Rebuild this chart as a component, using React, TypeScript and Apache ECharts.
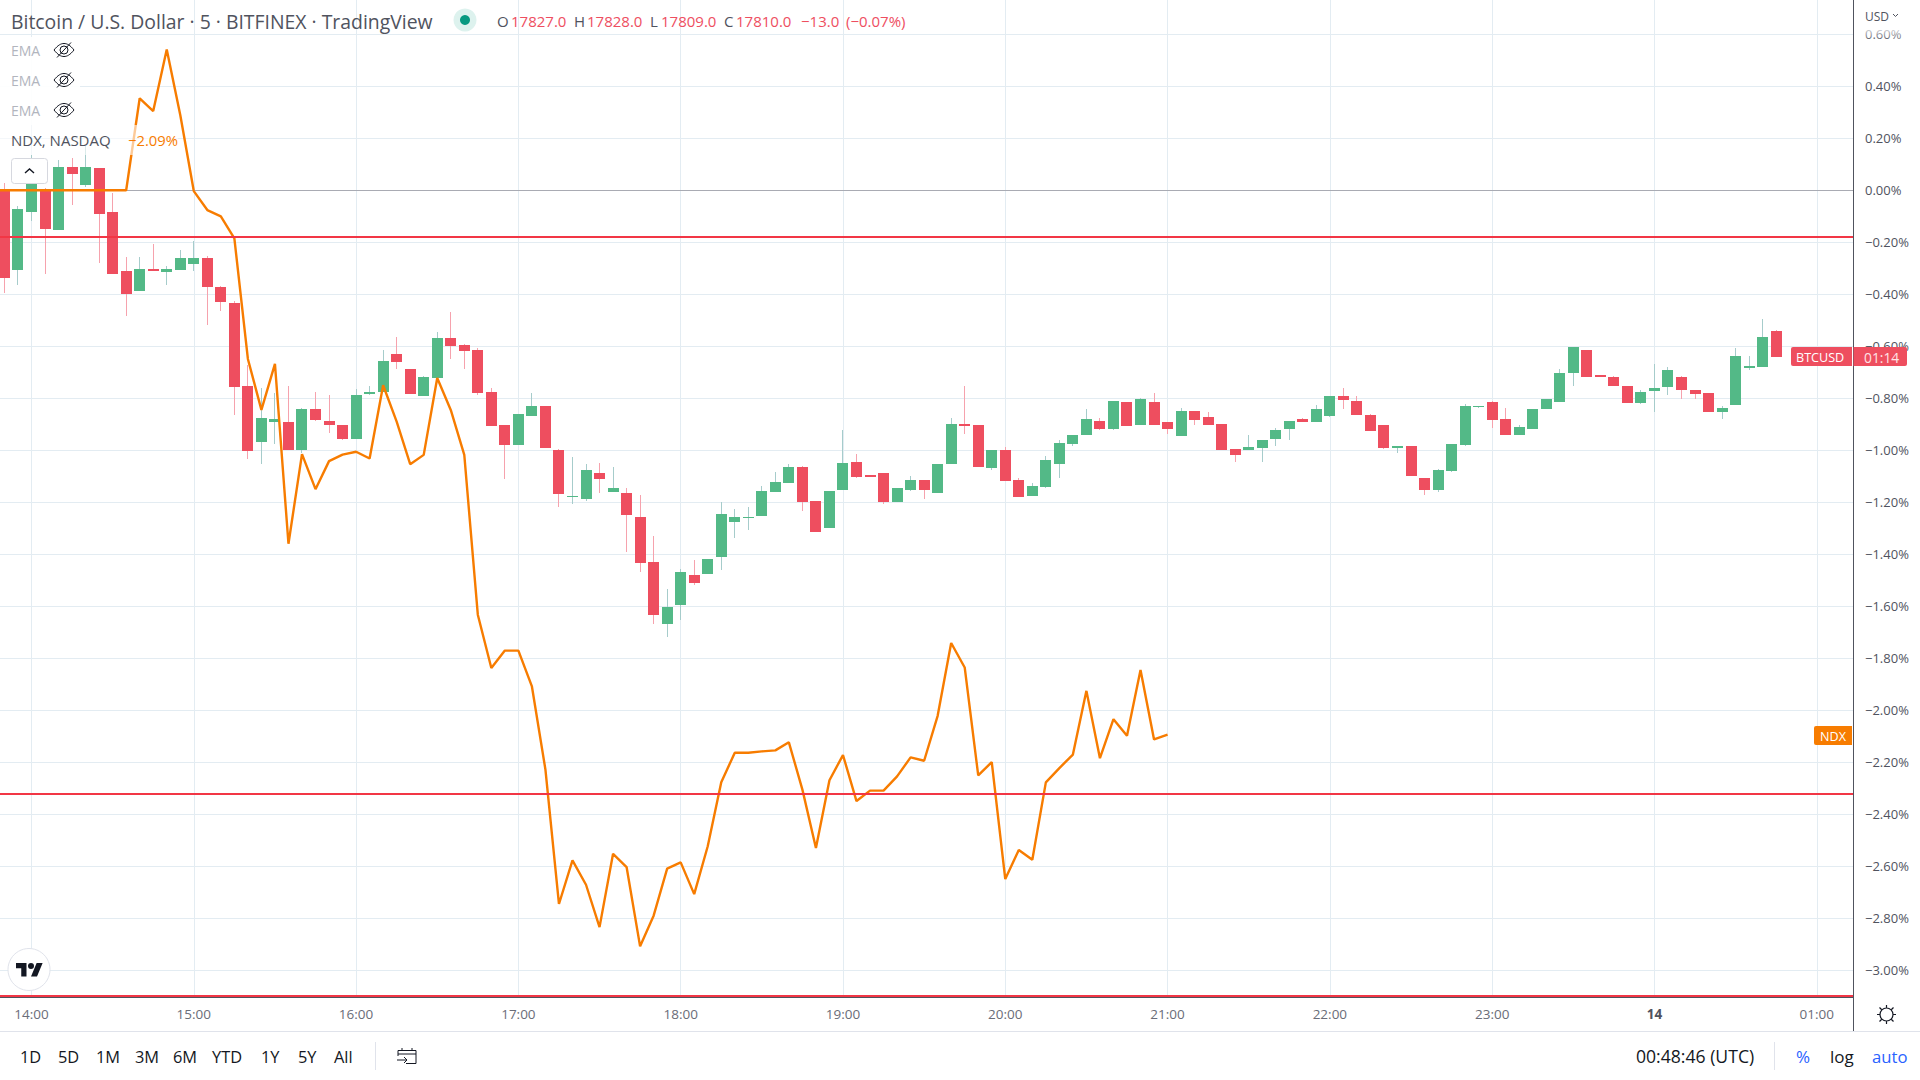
import React, { useEffect, useRef } from "react";
import * as echarts from "echarts";

// bar index 0 = 14:00, one bar = 5 minutes
const firstBar = -2;
const opens = [0.004,-0.306,-0.083,0.004,-0.153,0.09,0.021,0.086,-0.083,-0.31,-0.387,-0.303,-0.314,-0.306,-0.283,-0.26,-0.372,-0.433,-0.753,-0.968,-0.891,-0.891,-0.999,-0.841,-0.887,-0.903,-0.957,-0.783,-0.775,-0.629,-0.687,-0.791,-0.722,-0.568,-0.595,-0.614,-0.776,-0.903,-0.979,-0.868,-0.829,-0.999,-1.179,-1.187,-1.087,-1.16,-1.164,-1.256,-1.429,-1.668,-1.595,-1.479,-1.476,-1.41,-1.276,-1.26,-1.253,-1.16,-1.126,-1.064,-1.195,-1.299,-1.153,-1.045,-1.095,-1.087,-1.199,-1.153,-1.114,-1.164,-1.053,-0.899,-0.903,-1.068,-0.999,-1.114,-1.176,-1.141,-1.053,-0.976,-0.941,-0.887,-0.918,-0.814,-0.903,-0.814,-0.891,-0.945,-0.849,-0.872,-0.899,-0.995,-0.999,-0.991,-0.956,-0.918,-0.879,-0.891,-0.868,-0.791,-0.81,-0.864,-0.903,-0.991,-0.983,-1.106,-1.153,-1.079,-0.979,-0.833,-0.814,-0.879,-0.941,-0.918,-0.841,-0.814,-0.703,-0.614,-0.71,-0.718,-0.753,-0.818,-0.772,-0.756,-0.718,-0.768,-0.779,-0.853,-0.826,-0.683,-0.679,-0.541];
const closes = [-0.336,-0.072,0.04,-0.149,0.09,0.063,0.09,-0.091,-0.322,-0.399,-0.303,-0.31,-0.303,-0.26,-0.26,-0.372,-0.429,-0.756,-1.003,-0.876,-0.879,-0.999,-0.841,-0.883,-0.903,-0.957,-0.787,-0.776,-0.656,-0.66,-0.783,-0.718,-0.568,-0.599,-0.618,-0.779,-0.906,-0.979,-0.86,-0.829,-0.991,-1.168,-1.176,-1.076,-1.11,-1.145,-1.249,-1.433,-1.633,-1.603,-1.468,-1.51,-1.418,-1.245,-1.256,-1.256,-1.156,-1.122,-1.064,-1.199,-1.314,-1.156,-1.049,-1.103,-1.103,-1.199,-1.145,-1.114,-1.153,-1.053,-0.899,-0.906,-1.064,-0.999,-1.118,-1.179,-1.137,-1.037,-0.972,-0.941,-0.879,-0.918,-0.81,-0.906,-0.803,-0.903,-0.918,-0.849,-0.883,-0.903,-0.999,-1.018,-0.987,-0.96,-0.922,-0.887,-0.891,-0.841,-0.791,-0.806,-0.864,-0.926,-0.991,-0.983,-1.099,-1.153,-1.076,-0.976,-0.829,-0.829,-0.883,-0.941,-0.91,-0.841,-0.803,-0.703,-0.603,-0.718,-0.718,-0.753,-0.818,-0.776,-0.76,-0.691,-0.768,-0.783,-0.853,-0.837,-0.637,-0.676,-0.564,-0.641];
const highs = [0.027,-0.06,0.136,0.01,0.117,0.124,0.172,0.086,-0.012,-0.256,-0.256,-0.206,-0.291,-0.229,-0.195,-0.253,-0.368,-0.426,-0.672,-0.76,-0.779,-0.753,-0.837,-0.776,-0.787,-0.903,-0.764,-0.753,-0.614,-0.564,-0.687,-0.714,-0.545,-0.468,-0.591,-0.606,-0.76,-0.903,-0.86,-0.779,-0.829,-0.995,-1.026,-1.053,-1.049,-1.064,-1.145,-1.172,-1.329,-1.533,-1.456,-1.422,-1.418,-1.199,-1.226,-1.218,-1.137,-1.083,-1.053,-1.06,-1.195,-1.156,-0.922,-1.014,-1.095,-1.087,-1.145,-1.099,-1.114,-1.053,-0.876,-0.753,-0.903,-0.999,-0.987,-1.106,-1.126,-1.022,-0.96,-0.941,-0.841,-0.876,-0.81,-0.814,-0.799,-0.779,-0.891,-0.837,-0.849,-0.853,-0.899,-0.995,-0.941,-0.96,-0.914,-0.887,-0.876,-0.826,-0.791,-0.76,-0.791,-0.86,-0.903,-0.983,-0.983,-1.106,-1.072,-0.976,-0.822,-0.829,-0.81,-0.837,-0.903,-0.841,-0.803,-0.687,-0.603,-0.614,-0.71,-0.714,-0.753,-0.768,-0.668,-0.679,-0.714,-0.768,-0.779,-0.829,-0.606,-0.637,-0.495,-0.537];
const lows = [-0.394,-0.364,-0.118,-0.322,-0.153,-0.056,0.014,-0.279,-0.322,-0.482,-0.387,-0.31,-0.364,-0.306,-0.31,-0.518,-0.464,-0.864,-1.033,-1.053,-0.976,-0.999,-1.011,-0.887,-0.933,-0.96,-0.957,-0.787,-0.775,-0.687,-0.783,-0.791,-0.722,-0.649,-0.687,-0.787,-0.906,-1.11,-0.979,-0.868,-0.991,-1.218,-1.206,-1.195,-1.164,-1.16,-1.391,-1.468,-1.668,-1.718,-1.653,-1.518,-1.476,-1.46,-1.337,-1.306,-1.253,-1.16,-1.126,-1.233,-1.314,-1.299,-1.153,-1.106,-1.103,-1.206,-1.199,-1.156,-1.187,-1.164,-1.053,-0.937,-1.064,-1.076,-1.118,-1.179,-1.176,-1.145,-1.106,-0.983,-0.941,-0.922,-0.922,-0.906,-0.903,-0.903,-0.937,-0.945,-0.903,-0.903,-0.999,-1.045,-0.999,-1.045,-0.983,-0.96,-0.891,-0.891,-0.872,-0.841,-0.864,-0.926,-0.995,-1.01,-1.099,-1.172,-1.16,-1.083,-0.983,-0.837,-0.914,-0.941,-0.941,-0.918,-0.841,-0.814,-0.753,-0.718,-0.718,-0.753,-0.818,-0.822,-0.853,-0.787,-0.803,-0.803,-0.853,-0.879,-0.826,-0.691,-0.679,-0.641];

const ndxStart = -3;
const ndxValues = [0,0,0,0,0,0,0,0,0,0,0,0.354,0.305,0.542,0.29,-0.003,-0.076,-0.1,-0.185,-0.649,-0.845,-0.668,-1.36,-1.015,-1.15,-1.042,-1.017,-1.006,-1.032,-0.75,-0.89,-1.054,-1.018,-0.722,-0.845,-1.018,-1.633,-1.838,-1.771,-1.771,-1.909,-2.229,-2.746,-2.578,-2.672,-2.835,-2.553,-2.604,-2.909,-2.791,-2.61,-2.586,-2.708,-2.524,-2.278,-2.164,-2.164,-2.159,-2.155,-2.124,-2.306,-2.531,-2.27,-2.173,-2.35,-2.31,-2.31,-2.255,-2.182,-2.195,-2.022,-1.742,-1.836,-2.251,-2.2,-2.65,-2.538,-2.576,-2.278,-2.223,-2.171,-1.926,-2.185,-2.035,-2.099,-1.846,-2.113,-2.094];

const redLevels = [-0.18, -2.321, -3.098];
const zeroLevel = [0];
const yTicks = [0.6,0.4,0.2,0,-0.2,-0.4,-0.6,-0.8,-1,-1.2,-1.4,-1.6,-1.8,-2,-2.2,-2.4,-2.6,-2.8,-3];
const xTicks = [0,12,24,36,48,60,72,84,96,108,120,132];
const xTickLabels = ["14:00","15:00","16:00","17:00","18:00","19:00","20:00","21:00","22:00","23:00","14","01:00"];

const ohlcParts = [["O","#50535E",497],["17827.0","#EE4E5F",511],["H","#50535E",574],["17828.0","#EE4E5F",587],["L","#50535E",650],["17809.0","#EE4E5F",661],["C","#50535E",724],["17810.0","#EE4E5F",736],["−13.0","#EE4E5F",801],["(−0.07%)","#EE4E5F",846]];
const rangeButtons = [["1D",20],["5D",58],["1M",96],["3M",135],["6M",173],["YTD",212],["1Y",261],["5Y",298],["All",334]];
const emaRows = [50, 80, 110];

const FONT = '"Open Sans", sans-serif';
const RED = "#EE4E5F";
const GREEN = "#53B987";
const ORANGE = "#F77C00";
const GRID = "#E3ECF2";

echarts.graphic.registerShape("tvEye", echarts.graphic.extendPath("M-10 0C-6-5-3-6.5 0-6.5 3-6.5 6-5 10 0 6 5 3 6.5 0 6.5-3 6.5-6 5-10 0ZM-4 0a4 4 0 1 0 8 0a4 4 0 1 0-8 0ZM7-7.5L-7 7.5", {}));
echarts.graphic.registerShape("tvLogo", echarts.graphic.extendPath("M14 22H7V11H0V4h14v18ZM28 22h-8l7.5-18h8L28 22ZM16 8a4 4 0 1 0 8 0a4 4 0 1 0-8 0Z", {}));
echarts.graphic.registerShape("tvCal", echarts.graphic.extendPath("M1 10V4.5H19V17.5H9M1 8H19M5 2V5M15 2V5M0 14H10M7 11L10 14L7 17", {}));
echarts.graphic.registerShape("tvSun", echarts.graphic.extendPath("M-6.5 0a6.5 6.5 0 1 0 13 0a6.5 6.5 0 1 0-13 0ZM0-7V-9.5M0 7V9.5M-7 0H-9.5M7 0H9.5M-5-5L-7-7M5-5L7-7M-5 5L-7 7M5 5L7 7", {}));

const txt = (text: string, x: number, y: number, fill: string, fontSize: number, extra: any = {}) => ({
  type: "text", z: 110, silent: true,
  style: { text, x, y, fill, font: `${extra.weight || 400} ${fontSize}px ${FONT}`, textVerticalAlign: "middle", textAlign: extra.align || "left" },
});
const box = (x: number, y: number, width: number, height: number, fill: any, extra: any = {}) => ({
  type: "rect", z: extra.z || 105, silent: true, shape: { x, y, width, height, r: extra.r || 0 },
  style: { fill, stroke: extra.stroke, lineWidth: extra.stroke ? 1 : 0 },
});

function buildGraphic() {
  const els: any[] = [];
  // header
  els.push(txt("Bitcoin / U.S. Dollar · 5 · BITFINEX · TradingView", 11, 21, "#50535E", 19.4));
  els.push({ type: "circle", z: 105, silent: true, shape: { cx: 465, cy: 20, r: 11.5 }, style: { fill: "#DDF2EE" } });
  els.push({ type: "circle", z: 106, silent: true, shape: { cx: 465, cy: 20, r: 5 }, style: { fill: "#089981" } });
  ohlcParts.forEach(([t, c, x]) => els.push(txt(t as string, x as number, 20.5, c as string, 15)));
  // legend rows
  els.push(box(0, 37, 80, 88, "rgba(255,255,255,0.92)", { z: 100 }));
  els.push(box(0, 125, 178, 30, "rgba(255,255,255,0.6)", { z: 100 }));
  emaRows.forEach((y) => {
    els.push(txt("EMA", 11, y, "#B2B5BE", 14));
    els.push({ type: "tvEye", z: 110, silent: true, x: 64, y, style: { fill: "none", stroke: "#131722", lineWidth: 1 } });
  });
  els.push(txt("NDX, NASDAQ", 11, 140, "#50535E", 15));
  els.push(txt("−2.09%", 128, 140, ORANGE, 14.8));
  els.push(box(11.5, 158.5, 36, 25, "#fff", { stroke: "#D6D8DF", r: 3, z: 108 }));
  els.push({ type: "polyline", z: 110, silent: true, shape: { points: [[25, 173], [29.5, 169], [34, 173]] }, style: { fill: "none", stroke: "#131722", lineWidth: 1.4 } });
  // logo
  els.push({ type: "circle", z: 108, silent: true, shape: { cx: 29, cy: 969.5, r: 21 }, style: { fill: "#fff", stroke: "#E0E3EB", lineWidth: 1 } });
  els.push({ type: "tvLogo", z: 110, silent: true, x: 16, y: 960, scaleX: 0.75, scaleY: 0.75, style: { fill: "#131722" } });
  // axis frame
  els.push(box(1853, 0, 1, 1031, "#50535E", { z: 104 }));
  els.push(box(0, 997, 1854, 1, "#50535E", { z: 104 }));
  els.push(box(0, 1031, 1920, 1, "#E0E3EB", { z: 104 }));
  // USD
  els.push(box(1855, 0, 65, 26, "#fff", { z: 103 }));
  els.push(box(1855, 26, 65, 15, { type: "linear", x: 0, y: 0, x2: 0, y2: 1, colorStops: [{ offset: 0, color: "rgba(255,255,255,0.95)" }, { offset: 1, color: "rgba(255,255,255,0)" }] }, { z: 103 }));
  els.push(txt("USD", 1865, 16, "#50535E", 12));
  els.push({ type: "polyline", z: 110, silent: true, shape: { points: [[1893, 14], [1895.5, 16.5], [1898, 14]] }, style: { fill: "none", stroke: "#50535E", lineWidth: 1 } });
  // price tags
  els.push(box(1791, 347, 61, 19, RED, { r: [2, 0, 0, 2], z: 106 }));
  els.push(box(1853.5, 347, 53.5, 19, RED, { r: [0, 2, 2, 0], z: 106 }));
  els.push(txt("BTCUSD", 1796, 357, "#fff", 12.6));
  els.push(txt("01:14", 1864, 357, "#FFE3E6", 13.8));
  els.push(box(1814, 726, 38, 19, ORANGE, { r: [2, 0, 0, 2], z: 106 }));
  els.push(txt("NDX", 1833, 736, "#fff", 12.6, { align: "center" }));
  // bottom toolbar
  rangeButtons.forEach(([t, x]) => els.push(txt(t as string, x as number, 1056, "#131722", 16.4)));
  els.push(box(375, 1042, 1, 28, "#E0E3EB"));
  els.push({ type: "tvCal", z: 110, silent: true, x: 397, y: 1046, style: { fill: "none", stroke: "#131722", lineWidth: 1 } });
  els.push(txt("00:48:46 (UTC)", 1636, 1056, "#131722", 17.6));
  els.push(box(1774, 1042, 1, 28, "#E0E3EB"));
  els.push(txt("%", 1796, 1056, "#2962FF", 17));
  els.push(txt("log", 1830, 1056, "#131722", 17));
  els.push(txt("auto", 1872, 1056, "#2962FF", 16.7));
  els.push({ type: "tvSun", z: 110, silent: true, x: 1886.5, y: 1014.5, style: { fill: "none", stroke: "#131722", lineWidth: 1.2 } });
  return els;
}

const renderCandle = (_p: any, api: any) => {
  const idx = api.value(0), o = api.value(1), c = api.value(2), l = api.value(3), h = api.value(4);
  const cx = api.coord([idx, o])[0];
  const yO = api.coord([idx, o])[1], yC = api.coord([idx, c])[1];
  const yL = api.coord([idx, l])[1], yH = api.coord([idx, h])[1];
  const up = c >= o;
  const left = Math.round(cx - 5.5);
  const top = Math.round(Math.min(yO, yC));
  const bottom = Math.max(top + 1, Math.round(Math.max(yO, yC)));
  return {
    type: "group",
    children: [
      { type: "rect", shape: { x: left + 5, y: Math.round(yH), width: 1, height: Math.max(0, Math.round(yL) - Math.round(yH)) }, style: { fill: up ? "#A6CCCB" : "#F6A2AD" } },
      { type: "rect", shape: { x: left, y: top, width: 11, height: bottom - top }, style: { fill: up ? GREEN : RED } },
    ],
  };
};

export default function App() {
  const ref = useRef<HTMLDivElement>(null);
  useEffect(() => {
    document.body.style.margin = "0";
    const chart = echarts.init(ref.current!, null, { renderer: "svg" });
    const barData = opens.map((o, i) => [firstBar + i, o, closes[i], lows[i], highs[i]]);
    const ndxData = ndxValues.map((v, i) => [ndxStart + i, v]);
    chart.setOption({
      animation: false,
      backgroundColor: "#fff",
      tooltip: { show: false },
      grid: { left: 0, top: 0, width: 1853, height: 997, containLabel: false },
      xAxis: {
        type: "value", min: -2.329, max: 134.68,
        axisLine: { show: false },
        axisTick: { show: false, customValues: xTicks },
        splitLine: { show: true, lineStyle: { color: GRID, width: 1 } },
        axisLabel: {
          customValues: xTicks, margin: 10, color: "#6A6D78", fontFamily: FONT, fontSize: 13.5, hideOverlap: false,
          formatter: (v: number) => {
            const t = xTickLabels[xTicks.indexOf(v)] ?? "";
            return t === "14" ? "{b|14}" : t;
          },
          rich: { b: { fontWeight: 700, fontFamily: FONT, fontSize: 13.5, color: "#50535E" } },
        },
      },
      yAxis: {
        type: "value", position: "right", min: -3.1039, max: 0.7322,
        axisLine: { show: false },
        axisTick: { show: false, customValues: yTicks },
        splitLine: { show: true, lineStyle: { color: GRID, width: 1 } },
        axisLabel: {
          customValues: yTicks, margin: 12, color: "#50535E", fontFamily: FONT, fontSize: 13, hideOverlap: false,
          formatter: (v: number) => `${v < 0 ? "−" : ""}${Math.abs(v).toFixed(2)}%`,
        },
      },
      series: [
        {
          type: "line", data: [], z: 1, silent: true, symbol: "none",
          markLine: { silent: true, z: 1, symbol: "none", animation: false, label: { show: false }, lineStyle: { color: "#A9ABB3", width: 1, type: "solid" }, data: zeroLevel.map((v) => ({ yAxis: v })) },
        },
        { type: "custom", z: 2, silent: true, renderItem: renderCandle, data: barData, encode: { x: 0, y: [1, 2, 3, 4] } },
        { type: "line", z: 3, silent: true, data: ndxData, symbol: "none", showSymbol: false, lineStyle: { color: ORANGE, width: 2.4 } },
        {
          type: "line", data: [], z: 5, silent: true, symbol: "none",
          markLine: { silent: true, z: 5, symbol: "none", animation: false, label: { show: false }, lineStyle: { color: "#F23645", width: 2, type: "solid" }, data: redLevels.map((v) => ({ yAxis: v })) },
        },
      ],
      graphic: buildGraphic(),
    });
    return () => chart.dispose();
  }, []);
  return <div ref={ref} style={{ width: 1920, height: 1080, background: "#fff" }} />;
}
